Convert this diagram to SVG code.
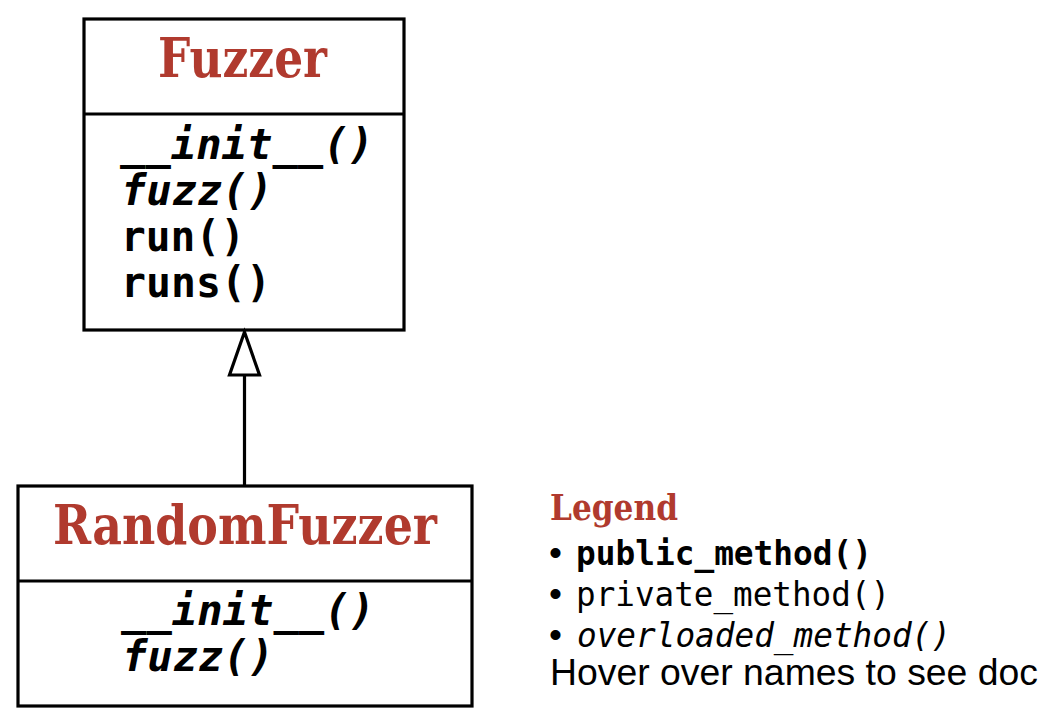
<svg xmlns="http://www.w3.org/2000/svg" width="1058" height="725" viewBox="0 0 1058 725">
<style>
.box{fill:#ffffff;stroke:#000000;stroke-width:3.2}
.div{stroke:#000000;stroke-width:3.2}
.title{font-family:"DejaVu Serif",serif;font-weight:bold;fill:#B03A2E}
.m{font-family:"DejaVu Sans Mono",monospace;font-size:42px;font-weight:bold;fill:#000}
.it{font-style:italic}
.lm{font-family:"DejaVu Sans Mono",monospace;font-size:34px;fill:#000}
.ls{font-family:"Liberation Sans",Arial,sans-serif;font-size:37px;fill:#000}
.edge{stroke:#000;stroke-width:3.2;fill:none}
</style>
<rect width="1058" height="725" fill="#ffffff"/>
<g id="Fuzzer">
<rect class="box" x="84" y="19" width="320" height="311"/>
<line class="div" x1="84" y1="114" x2="404" y2="114"/>
<text class="title" x="242.5" y="77" font-size="54" text-anchor="middle" textLength="169" lengthAdjust="spacingAndGlyphs">Fuzzer</text>
<text class="m it" x="120" y="159" textLength="254" lengthAdjust="spacingAndGlyphs">__init__()</text>
<text class="m it" x="121" y="205" textLength="152" lengthAdjust="spacingAndGlyphs">fuzz()</text>
<text class="m" x="121" y="251" textLength="124" lengthAdjust="spacingAndGlyphs">run()</text>
<text class="m" x="121" y="297" textLength="150" lengthAdjust="spacingAndGlyphs">runs()</text>
</g>
<g id="RandomFuzzer">
<rect class="box" x="18" y="486" width="454" height="220"/>
<line class="div" x1="18" y1="581" x2="472" y2="581"/>
<text class="title" x="245" y="544" font-size="54" text-anchor="middle" textLength="384" lengthAdjust="spacingAndGlyphs">RandomFuzzer</text>
<text class="m it" x="121" y="625" textLength="254" lengthAdjust="spacingAndGlyphs">__init__()</text>
<text class="m it" x="122" y="671" textLength="152" lengthAdjust="spacingAndGlyphs">fuzz()</text>
</g>
<g id="connectors">
<line class="edge" x1="244.5" y1="486" x2="244.5" y2="375"/>
<polygon points="244.5,332 229.5,375 259.5,375" fill="#ffffff" stroke="#000" stroke-width="3.2" stroke-linejoin="miter"/>
</g>
<g id="Legend">
<text class="title" x="550" y="520" font-size="35" textLength="128" lengthAdjust="spacingAndGlyphs">Legend</text>
<text class="ls" x="549" y="565">•</text>
<text class="lm" x="576" y="565" font-weight="bold" textLength="296" lengthAdjust="spacingAndGlyphs">public_method()</text>
<text class="ls" x="549" y="606">•</text>
<text class="lm" x="576" y="606" textLength="314" lengthAdjust="spacingAndGlyphs">private_method()</text>
<text class="ls" x="549" y="647">•</text>
<text class="lm it" x="577" y="647" textLength="374" lengthAdjust="spacingAndGlyphs">overloaded_method()</text>
<text class="ls" x="550" y="685" textLength="488" lengthAdjust="spacingAndGlyphs">Hover over names to see doc</text>
</g>
</svg>
